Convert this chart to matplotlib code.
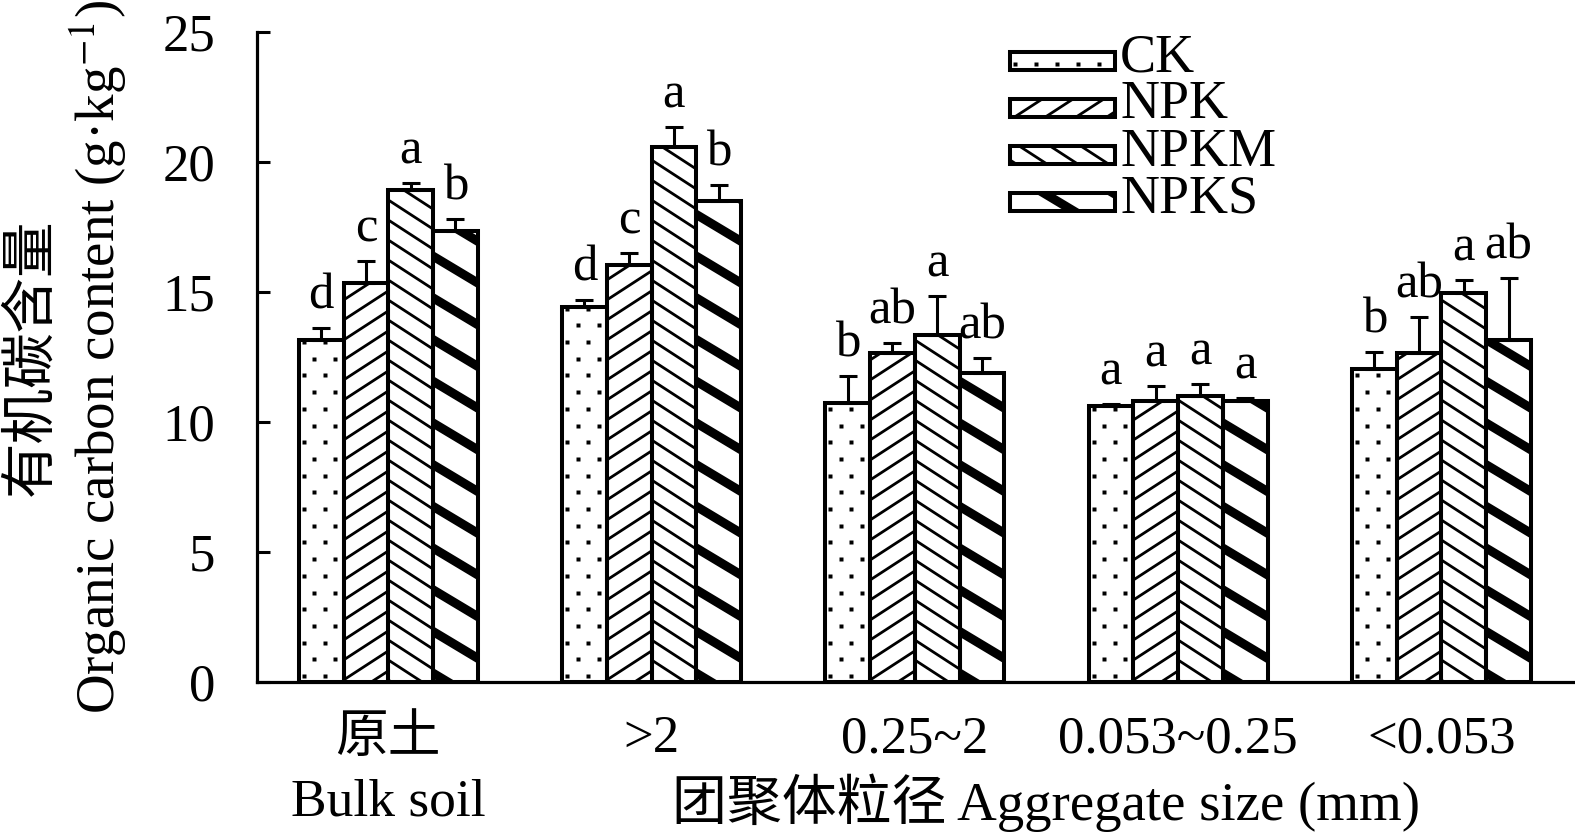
import numpy as np
import matplotlib
matplotlib.use('Agg')
import matplotlib.pyplot as plt
from matplotlib.transforms import IdentityTransform
from matplotlib.collections import LineCollection
from matplotlib.lines import Line2D
from matplotlib.patches import Rectangle

# ---------------- data ----------------
groups = ['原土', '>2', '0.25~2', '0.053~0.25', '<0.053']
group_en = ['Bulk soil', '', '', '', '']
treatments = ['CK', 'NPK', 'NPKM', 'NPKS']

ck = [13.15, 14.43, 10.72, 10.62, 12.05]
npk = [15.36, 16.04, 12.67, 10.82, 12.65]
npkm = [18.92, 20.57, 13.35, 11.00, 14.95]
npks = [17.36, 18.50, 11.90, 10.81, 13.17]

ck_err = [0.47, 0.26, 1.05, 0.06, 0.65]
npk_err = [0.84, 0.47, 0.38, 0.56, 1.40]
npkm_err = [0.28, 0.79, 1.50, 0.46, 0.51]
npks_err = [0.46, 0.62, 0.57, 0.12, 2.36]

ck_sig = ['d', 'd', 'b', 'a', 'b']
npk_sig = ['c', 'c', 'ab', 'a', 'ab']
npkm_sig = ['a', 'a', 'a', 'a', 'a']
npks_sig = ['b', 'b', 'ab', 'a', 'ab']

values = [ck, npk, npkm, npks]
errors = [ck_err, npk_err, npkm_err, npks_err]
sigs = [ck_sig, npk_sig, npkm_sig, npks_sig]
hatch_kinds = ['dots', 'fwd', 'back', 'thick']

# ---------------- style ----------------
plt.rcParams['font.family'] = ['Liberation Serif', 'Noto Sans CJK SC']
plt.rcParams['mathtext.fontset'] = 'stix'

W, H = 1575, 840
fig = plt.figure(figsize=(W / 100, H / 100), dpi=100)
ax = fig.add_axes([256.7 / W, 1 - 682 / H, (1573 - 256.7) / W, 650 / H])
ax.set_xlim(-0.5, 4.5)
ax.set_ylim(0, 25)

IDT = IdentityTransform()


def add_hatch(patch, kind, zorder):
    bb = patch.get_window_extent()
    x0, y0, x1, y1 = bb.x0, bb.y0, bb.x1, bb.y1
    if kind == 'dots':
        xs, ys = [], []
        j = 0
        yy = y0 + 6
        while yy < y1:
            off = 5 if j % 2 == 0 else 15.5
            xx = x0 + off
            while xx < x1:
                xs.append(xx)
                ys.append(yy)
                xx += 21
            yy += 16.7
            j += 1
        ln = Line2D(xs, ys, linestyle='none', marker='s', markersize=2.9,
                    markerfacecolor='black', markeredgecolor='none',
                    transform=IDT, zorder=zorder)
        ax.add_artist(ln)
        ln.set_clip_path(patch)
        return
    if kind == 'fwd':
        s, sp, lw = 0.65, 20.0, 2.0
    elif kind == 'back':
        s, sp, lw = -0.65, 20.0, 2.0
    else:
        s, sp, lw = -0.60, 41.7, 6.5
    w = x1 - x0
    lo = y0 - abs(s) * (w + 10) - sp
    hi = y1 + abs(s) * (w + 10) + sp
    k0 = int(np.floor(lo / sp))
    k1 = int(np.ceil(hi / sp))
    segs = []
    for k in range(k0, k1 + 1):
        c = k * sp
        xa, xb = x0 - 5, x1 + 5
        segs.append([(xa, c + s * (xa - x0)), (xb, c + s * (xb - x0))])
    lc = LineCollection(segs, colors='black', linewidths=lw,
                        transform=IDT, zorder=zorder, capstyle='butt')
    ax.add_artist(lc)
    lc.set_clip_path(patch)


x = np.arange(len(groups))
bw = 0.17
offsets = (np.arange(len(treatments)) - 1.5) * bw

for i in range(len(treatments)):
    xp = x + offsets[i]
    face = ax.bar(xp, values[i], bw, color='white', edgecolor='none', zorder=1)
    for p in face.patches:
        add_hatch(p, hatch_kinds[i], 2)
    ax.bar(xp, values[i], bw, fill=False, edgecolor='black', linewidth=2.9, zorder=3)
    ax.errorbar(xp, values[i], yerr=[np.zeros(len(groups)), errors[i]], fmt='none',
                ecolor='black', elinewidth=2.2, capsize=6.5, capthick=2.2, zorder=4)
    for j in range(len(groups)):
        ax.annotate(sigs[i][j], (xp[j], values[i][j] + errors[i][j]),
                    xytext=(0, 14), textcoords='offset points',
                    ha='center', va='baseline', fontsize=36.5)

# axes
for sp_name in ['top', 'right']:
    ax.spines[sp_name].set_visible(False)
for sp_name in ['left', 'bottom']:
    ax.spines[sp_name].set_linewidth(2.3)

ax.set_yticks([0, 5, 10, 15, 20, 25])
ax.tick_params(axis='y', direction='in', length=9.5, width=2.2, pad=30, labelsize=38)
ax.set_xticks(x)
ax.set_xticklabels(groups)
ax.tick_params(axis='x', length=0, pad=24, labelsize=38)

for j, lab in enumerate(group_en):
    if lab:
        fig.text(ax.transData.transform((x[j], 0))[0] / W, 1 - 803 / H, lab,
                 ha='center', va='center', fontsize=38.5)

fig.text(1046 / W, 1 - 803 / H, '团聚体粒径 Aggregate size (mm)',
         ha='center', va='center', fontsize=39.5)

fig.text(98 / W, 1 - 357 / H, 'Organic carbon content (g·kg$^{-1}$)',
         rotation=90, ha='center', va='center', fontsize=39.5)
fig.text(32 / W, 1 - 357 / H, '有机碳含量',
         rotation=90, ha='center', va='center', fontsize=40)

# legend (manual, hatched boxes)
for i, name in enumerate(treatments):
    top = 52 + i * 47
    bot = top + 17.5
    r = Rectangle((1010, H - bot), 105, 17.5, transform=IDT, facecolor='white',
                  edgecolor='none', zorder=5)
    ax.add_artist(r)
    r.set_clip_on(False)
    add_hatch(r, hatch_kinds[i], 6)
    re = Rectangle((1010, H - bot), 105, 17.5, transform=IDT, fill=False,
                   edgecolor='black', linewidth=2.9, zorder=7)
    ax.add_artist(re)
    re.set_clip_on(False)
    fig.text(1120 / W, (H - bot - 2) / H, name, ha='left', va='baseline', fontsize=39)

fig.savefig('out.png', dpi=100)
